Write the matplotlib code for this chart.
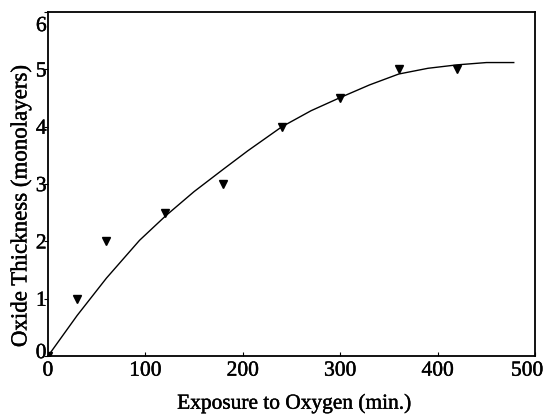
import matplotlib
matplotlib.use("Agg")
import matplotlib.pyplot as plt
import matplotlib.patheffects as pe
from matplotlib.transforms import ScaledTranslation

# measured points (exposure in min, thickness in monolayers)
exp_min = [0, 30, 60, 120, 180, 240, 300, 360, 420]
thickness = [0, 1, 2, 2.5, 3, 4, 4.5, 5, 5]

# fitted curve
fit_x = [0, 30, 60, 94, 121, 150, 180, 205, 240, 270, 300, 330, 360, 390, 420, 450, 478]
fit_y = [0, 0.71, 1.36, 2.02, 2.45, 2.87, 3.26, 3.58, 4.0, 4.28, 4.51, 4.73, 4.92, 5.02, 5.08, 5.12, 5.12]

xticks = [0, 100, 200, 300, 400, 500]
yticks = [0, 1, 2, 3, 4, 5, 6]

plt.rcParams['font.family'] = ['Liberation Serif', 'DejaVu Serif']
heavy = [pe.withStroke(linewidth=0.3, foreground='black')]

fig = plt.figure(figsize=(5.45, 4.17), dpi=100)
ax = fig.add_axes([0.088, 0.146, 0.894, 0.825])

ax.plot(fit_x, fit_y, color='black', lw=1.0)
ax.plot(exp_min, thickness, linestyle='none', marker='v', color='black', markersize=6)

ax.set_xlim(0, 500)
ax.set_ylim(0, 6)
ax.set_xticks(xticks)
ax.set_yticks(yticks)
ax.tick_params(axis='x', direction='in', length=3, labelsize=15.5, pad=4)
ax.tick_params(axis='y', direction='out', length=3, labelsize=15.5, pad=-2)
for lab in ax.get_xticklabels() + ax.get_yticklabels():
    lab.set_path_effects(heavy)
for sp in ax.spines.values():
    sp.set_linewidth(1.3)

# edge labels pulled inside the picture like in the original
xl = ax.get_xticklabels()
xl[-1].set_transform(xl[-1].get_transform() + ScaledTranslation(-0.08, 0, fig.dpi_scale_trans))
yl = ax.get_yticklabels()
yl[-1].set_transform(yl[-1].get_transform() + ScaledTranslation(0, -0.12, fig.dpi_scale_trans))
yl[0].set_transform(yl[0].get_transform() + ScaledTranslation(0, 0.05, fig.dpi_scale_trans))

ax.set_xlabel("Exposure to Oxygen (min.)", fontsize=15.4, path_effects=heavy)
ax.set_ylabel("Oxide Thickness (monolayers)", fontsize=16.5, path_effects=heavy)
ax.xaxis.set_label_coords(0.506, -0.11)
ax.yaxis.set_label_coords(-0.034, 0.436)

fig.savefig("out.png", dpi=100)
